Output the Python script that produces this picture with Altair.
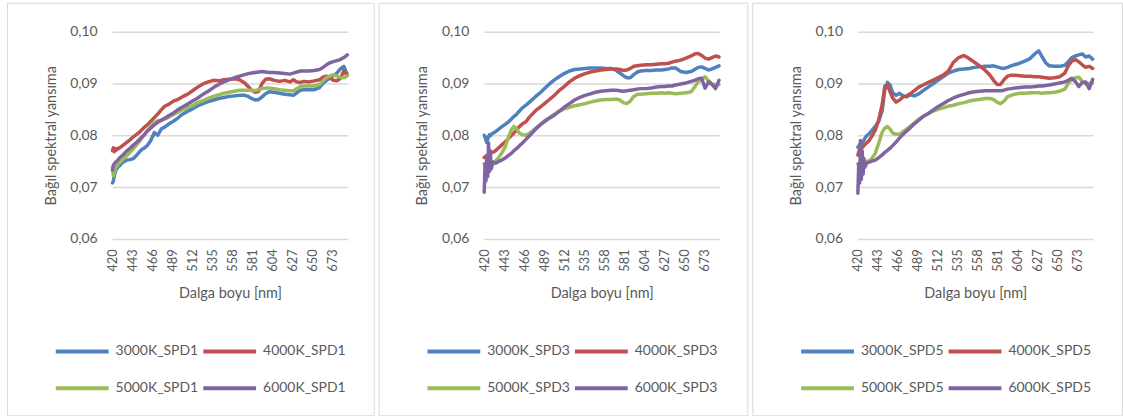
import altair as alt
import pandas as pd

# Wavelength grid [nm] shared by every series
WAVELENGTH = [
    420, 421, 422, 423, 424, 425, 426, 427, 428, 430, 433,
    436, 440, 444, 448, 451, 454, 457, 460, 464, 468, 472,
    476, 480, 485, 490, 495, 500, 506, 512, 518, 524, 530,
    536, 542, 548, 554, 560, 566, 572, 576, 580, 584, 588,
    592, 596, 600, 606, 612, 618, 624, 628, 632, 636, 640,
    646, 652, 658, 662, 666, 670, 674, 678, 682, 686, 690,
]

# Relative spectral reflectance, SPD1
SPD1_3000K = [
    .0708, .0712, .0722, .0728, .0733, .0736, .0738, .0740, .0741, .0745, .0749,
    .0752, .0753, .0755, .0762, .0768, .0773, .0776, .0780, .0790, .0805, .0800,
    .0812, .0816, .0822, .0827, .0833, .0840, .0846, .0851, .0857, .0861, .0865,
    .0868, .0871, .0873, .0875, .0876, .0877, .0877, .0875, .0871, .0868, .0869,
    .0874, .0880, .0884, .0883, .0881, .0879, .0878, .0877, .0882, .0887, .0888,
    .0888, .0888, .0892, .0900, .0906, .0911, .0915, .0920, .0928, .0933, .0917,
]
SPD1_4000K = [
    .0770, .0776, .0768, .0774, .0771, .0773, .0775, .0774, .0776, .0778, .0782,
    .0786, .0791, .0797, .0802, .0806, .0811, .0816, .0820, .0827, .0834, .0841,
    .0849, .0856, .0860, .0866, .0869, .0874, .0879, .0886, .0893, .0899, .0903,
    .0906, .0905, .0907, .0908, .0909, .0907, .0901, .0894, .0887, .0883, .0885,
    .0900, .0908, .0909, .0906, .0904, .0906, .0903, .0907, .0903, .0902, .0904,
    .0903, .0905, .0907, .0912, .0914, .0911, .0906, .0905, .0910, .0924, .0916,
]
SPD1_5000K = [
    .0738, .0722, .0728, .0735, .0739, .0741, .0743, .0745, .0747, .0750, .0755,
    .0760, .0767, .0774, .0782, .0788, .0795, .0802, .0809, .0817, .0824, .0828,
    .0829, .0831, .0835, .0840, .0844, .0849, .0853, .0857, .0863, .0867, .0871,
    .0875, .0878, .0881, .0883, .0885, .0887, .0887, .0887, .0887, .0886, .0888,
    .0890, .0891, .0891, .0890, .0888, .0887, .0886, .0886, .0890, .0894, .0895,
    .0895, .0895, .0898, .0905, .0911, .0914, .0917, .0914, .0912, .0911, .0915,
]
SPD1_6000K = [
    .0733, .0742, .0745, .0747, .0749, .0750, .0752, .0754, .0756, .0759, .0764,
    .0769, .0775, .0781, .0787, .0792, .0797, .0802, .0808, .0814, .0820, .0825,
    .0829, .0833, .0838, .0843, .0849, .0854, .0860, .0866, .0872, .0879, .0885,
    .0892, .0898, .0903, .0907, .0911, .0914, .0917, .0919, .0920, .0921, .0922,
    .0923, .0922, .0921, .0921, .0920, .0919, .0918, .0920, .0922, .0924, .0924,
    .0924, .0925, .0927, .0931, .0936, .0940, .0942, .0944, .0946, .0950, .0955,
]

# Relative spectral reflectance, SPD3
SPD3_3000K = [
    .0800, .0797, .0790, .0786, .0792, .0798, .0801, .0799, .0802, .0804, .0807,
    .0811, .0816, .0821, .0826, .0831, .0836, .0840, .0846, .0853, .0858, .0864,
    .0870, .0876, .0883, .0891, .0899, .0906, .0913, .0919, .0924, .0927, .0928,
    .0929, .0930, .0930, .0930, .0929, .0929, .0925, .0920, .0915, .0911, .0911,
    .0917, .0922, .0924, .0925, .0925, .0926, .0926, .0927, .0928, .0930, .0930,
    .0923, .0921, .0923, .0927, .0931, .0932, .0929, .0926, .0928, .0931, .0934,
]
SPD3_4000K = [
    .0757, .0758, .0760, .0761, .0762, .0763, .0764, .0765, .0766, .0767, .0770,
    .0775, .0781, .0787, .0794, .0799, .0804, .0810, .0816, .0822, .0826, .0835,
    .0842, .0849, .0855, .0862, .0869, .0876, .0886, .0894, .0903, .0910, .0915,
    .0919, .0922, .0924, .0926, .0927, .0928, .0928, .0927, .0925, .0926, .0929,
    .0933, .0934, .0935, .0936, .0936, .0937, .0938, .0938, .0939, .0941, .0943,
    .0945, .0949, .0953, .0957, .0958, .0954, .0949, .0947, .0950, .0953, .0951,
]
SPD3_5000K = [
    .0745, .0742, .0746, .0744, .0746, .0745, .0746, .0747, .0747, .0748, .0750,
    .0756, .0765, .0777, .0797, .0810, .0817, .0813, .0805, .0801, .0800, .0804,
    .0809, .0815, .0821, .0829, .0834, .0840, .0846, .0851, .0854, .0857, .0859,
    .0861, .0864, .0866, .0868, .0869, .0869, .0870, .0868, .0863, .0861, .0866,
    .0875, .0879, .0879, .0880, .0881, .0881, .0882, .0881, .0882, .0881, .0880,
    .0881, .0882, .0884, .0893, .0903, .0908, .0913, .0905, .0899, .0897, .0898,
]
SPD3_6000K = [
    .0690, .0745, .0712, .0760, .0720, .0785, .0730, .0770, .0735, .0748, .0746,
    .0749, .0752, .0756, .0761, .0765, .0770, .0774, .0779, .0785, .0792, .0799,
    .0806, .0813, .0821, .0827, .0833, .0838, .0846, .0854, .0861, .0868, .0873,
    .0877, .0880, .0883, .0885, .0886, .0887, .0887, .0886, .0885, .0886, .0887,
    .0888, .0889, .0890, .0890, .0891, .0893, .0894, .0894, .0895, .0895, .0897,
    .0899, .0901, .0904, .0906, .0909, .0910, .0891, .0903, .0898, .0890, .0906,
]

# Relative spectral reflectance, SPD5
SPD5_3000K = [
    .0777, .0779, .0782, .0784, .0780, .0786, .0788, .0790, .0794, .0799, .0803,
    .0809, .0817, .0827, .0848, .0888, .0902, .0897, .0882, .0877, .0881, .0876,
    .0874, .0878, .0876, .0880, .0886, .0892, .0899, .0906, .0913, .0920, .0924,
    .0927, .0928, .0929, .0931, .0932, .0933, .0933, .0934, .0932, .0930, .0929,
    .0931, .0934, .0936, .0939, .0943, .0948, .0958, .0963, .0951, .0940, .0934,
    .0933, .0933, .0935, .0942, .0950, .0953, .0955, .0957, .0951, .0953, .0947,
]
SPD5_4000K = [
    .0762, .0768, .0772, .0774, .0775, .0777, .0778, .0780, .0782, .0785, .0790,
    .0798, .0810, .0830, .0860, .0895, .0897, .0884, .0872, .0864, .0868, .0874,
    .0876, .0880, .0886, .0893, .0897, .0901, .0906, .0911, .0916, .0924, .0941,
    .0950, .0954, .0948, .0941, .0934, .0926, .0916, .0906, .0898, .0898, .0907,
    .0914, .0916, .0916, .0915, .0914, .0914, .0913, .0913, .0912, .0911, .0910,
    .0911, .0913, .0920, .0934, .0943, .0946, .0942, .0936, .0931, .0933, .0929,
]
SPD5_5000K = [
    .0745, .0742, .0746, .0744, .0746, .0745, .0746, .0747, .0748, .0749, .0751,
    .0755, .0765, .0785, .0806, .0814, .0817, .0812, .0804, .0802, .0802, .0807,
    .0812, .0817, .0824, .0831, .0836, .0841, .0846, .0850, .0853, .0856, .0858,
    .0861, .0863, .0866, .0868, .0869, .0871, .0871, .0869, .0864, .0861, .0866,
    .0874, .0877, .0879, .0881, .0881, .0882, .0882, .0882, .0881, .0882, .0882,
    .0883, .0885, .0889, .0900, .0908, .0911, .0912, .0904, .0899, .0900, .0901,
]
SPD5_6000K = [
    .0688, .0745, .0708, .0790, .0715, .0770, .0725, .0755, .0738, .0746, .0748,
    .0750, .0752, .0757, .0762, .0767, .0771, .0775, .0780, .0787, .0795, .0802,
    .0808, .0814, .0822, .0829, .0836, .0841, .0848, .0855, .0861, .0867, .0872,
    .0876, .0879, .0882, .0884, .0885, .0886, .0886, .0886, .0886, .0886, .0887,
    .0889, .0890, .0891, .0892, .0893, .0893, .0894, .0895, .0895, .0896, .0897,
    .0899, .0901, .0903, .0906, .0910, .0904, .0894, .0902, .0903, .0890, .0908,
]

TEMPERATURES = ["3000K", "4000K", "5000K", "6000K"]
COLORS = ["#4F81BD", "#C0504D", "#9BBB59", "#8064A2"]
X_TICKS = [420, 443, 466, 489, 512, 535, 558, 581, 604, 627, 650, 673]
Y_TICKS = [0.06, 0.07, 0.08, 0.09, 0.10]

PANELS = [
    ("SPD1", [SPD1_3000K, SPD1_4000K, SPD1_5000K, SPD1_6000K], 368),
    ("SPD3", [SPD3_3000K, SPD3_4000K, SPD3_5000K, SPD3_6000K], 370),
    ("SPD5", [SPD5_3000K, SPD5_4000K, SPD5_5000K, SPD5_6000K], 371),
]

FONT = "Lato"
TEXT = "#595959"
GRID = "#D9D9D9"
PANEL_H = 414
PLOT_LEFT, PLOT_RIGHT = 105.5, 342
PLOT_TOP, PLOT_BOTTOM = 29, 237


def panel(spd, series, width):
    names = [f"{t}_{spd}" for t in TEMPERATURES]
    rows = []
    for name, values in zip(names, series):
        for wl, v in zip(WAVELENGTH, values):
            rows.append({"nm": wl, "yansima": v, "seri": name})
    df = pd.DataFrame(rows)

    return (
        alt.Chart(df)
        .mark_line(strokeWidth=3.5, strokeJoin="round", strokeCap="round")
        .encode(
            x=alt.X(
                "nm:Q",
                scale=alt.Scale(domain=[419.5, 690.5], range=[PLOT_LEFT, PLOT_RIGHT],
                                nice=False, zero=False),
                axis=alt.Axis(
                    values=X_TICKS, labelAngle=270, offset=-(PANEL_H - PLOT_BOTTOM),
                    domain=False, ticks=False, grid=False, labelPadding=10,
                    labelFont=FONT, labelFontSize=13, labelColor=TEXT,
                    title="Dalga boyu [nm]", titleFont=FONT, titleFontSize=14.5,
                    titleFontWeight="normal", titleColor=TEXT,
                    titleX=(PLOT_LEFT + PLOT_RIGHT) / 2, titleY=48,
                    titleBaseline="top", titleAlign="center",
                ),
            ),
            y=alt.Y(
                "yansima:Q",
                scale=alt.Scale(domain=[0.06, 0.10], range=[PLOT_BOTTOM, PLOT_TOP],
                                nice=False, zero=False),
                axis=alt.Axis(
                    values=Y_TICKS, offset=-PLOT_LEFT,
                    labelExpr="replace(format(datum.value, '.2f'), '.', ',')",
                    domain=False, ticks=False, grid=True, gridColor=GRID, gridWidth=1.5,
                    labelPadding=15, labelFont=FONT, labelFontSize=14, labelColor=TEXT,
                    title="Bağıl spektral yansıma", titleFont=FONT, titleFontSize=14.5,
                    titleFontWeight="normal", titleColor=TEXT,
                    titleX=-54, titleY=(PLOT_TOP + PLOT_BOTTOM) / 2,
                    titleBaseline="bottom", titleAlign="center", titleAngle=270,
                ),
            ),
            color=alt.Color(
                "seri:N",
                scale=alt.Scale(domain=names, range=COLORS),
                legend=alt.Legend(
                    title=None, orient="none", legendX=47, legendY=342,
                    direction="horizontal", columns=2, columnPadding=3,
                    rowPadding=21, clipHeight=16,
                    symbolType="stroke", symbolSize=2809, symbolStrokeWidth=4,
                    labelOffset=5, labelFont=FONT, labelFontSize=14, labelColor=TEXT,
                    labelLimit=200, padding=0,
                ),
            ),
        )
        .properties(width=width, height=PANEL_H)
    )


chart = (
    alt.hconcat(*[panel(s, ser, w) for s, ser, w in PANELS], spacing=3)
    .resolve_scale(color="independent", x="independent", y="independent")
    .resolve_legend(color="independent")
    .properties(padding={"left": 6, "top": 1, "right": 0, "bottom": 0}, background="white")
    .configure_view(stroke=GRID, strokeWidth=1)
)

chart.save("out.html", embed_options={"renderer": "svg", "actions": False})
